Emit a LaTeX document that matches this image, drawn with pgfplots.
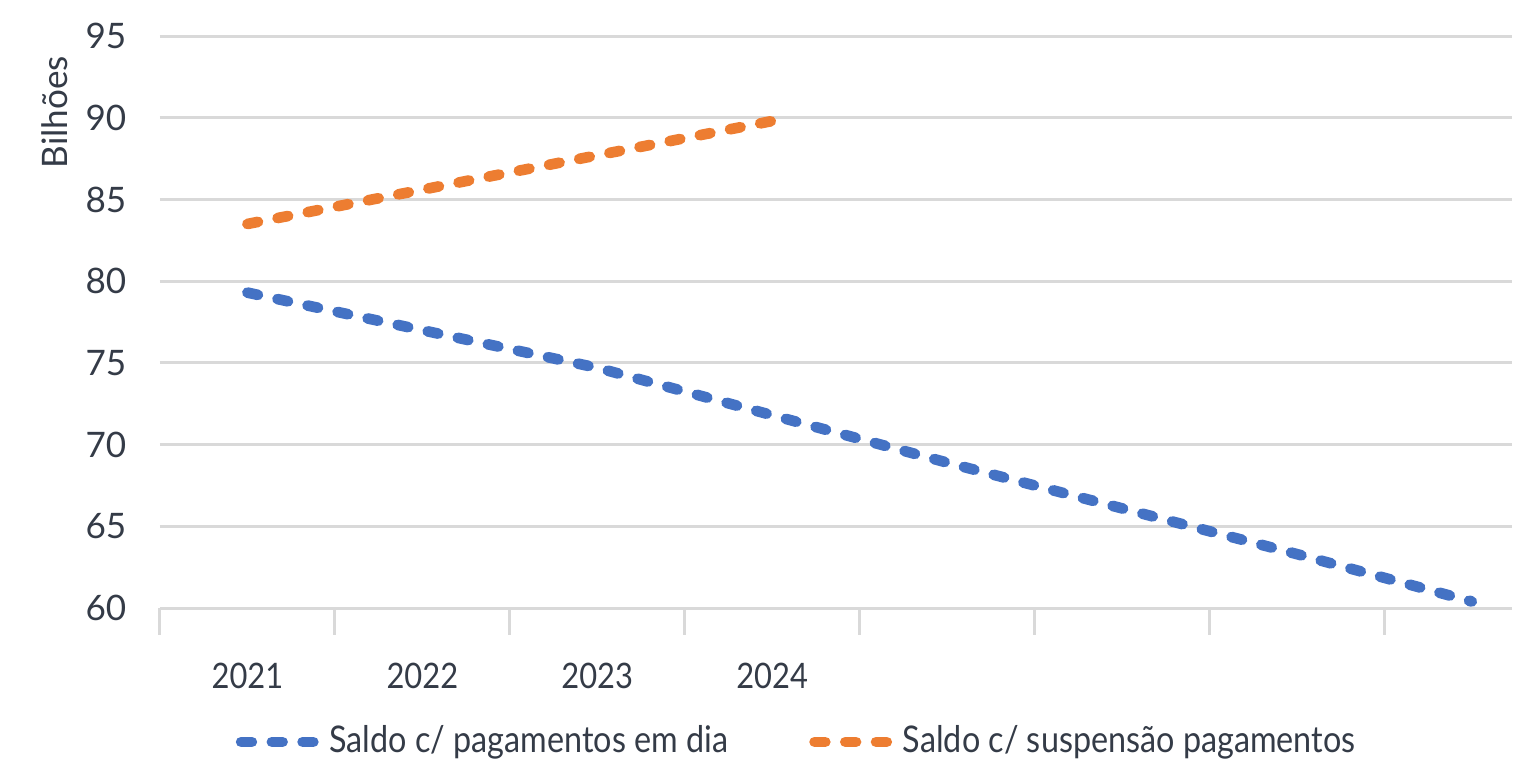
\documentclass[border=0pt]{standalone}
\usepackage{fontspec}
\setmainfont{Lato}
\newfontfamily\narrowfont{Lato}[FakeStretch=0.88]
\usepackage{pgfplots}
\pgfplotsset{compat=1.18}
\definecolor{serblue}{HTML}{4472C4}
\definecolor{serorange}{HTML}{ED7D31}
\definecolor{gridgray}{HTML}{D9D9D9}
\definecolor{txt}{HTML}{343B47}

\begin{document}
\begin{tikzpicture}
\path[use as bounding box] (-1.683cm,-1.599cm) rectangle (14.317cm,6.396cm);
\begin{axis}[
    at={(0,0)}, anchor=south west,
    scale only axis,
    width=14.222cm, height=6.017cm,
    xmin=-0.5, xmax=7.23,
    ymin=60, ymax=95,
    ytick={60,65,...,95},
    xtick={0,1,2,3},
    xticklabels={2021,2022,2023,2024},
    minor xtick={-0.5,0.5,...,6.5},
    axis line style={draw=none},
    ymajorgrids,
    grid style={gridgray, line width=0.9pt},
    xmajorgrids=false,
    xminorgrids=false,
    tick align=outside,
    xtick pos=lower,
    major x tick style={draw=none},
    ytick style={draw=none},
    minor x tick style={gridgray, line width=0.9pt},
    minor tick length=0.28cm,
    /pgf/number format/assume math mode=true,
    tick label style={font=\fontsize{10.5}{12}\selectfont, text=txt},
    yticklabel style={xshift=-0.08cm},
    xticklabel style={yshift=-0.3cm, font=\narrowfont\fontsize{10.5}{12}\selectfont},
    ylabel={Bilhões},
    ylabel style={at={(axis description cs:-0.078,0.867)}, anchor=center, font=\fontsize{10.5}{12}\selectfont, text=txt},
    legend style={at={(0.472,-0.234)}, anchor=center, draw=none, fill=none,
        legend columns=2, font=\narrowfont\fontsize{11}{13}\selectfont, text=txt,
        /tikz/every even column/.append style={column sep=0.8cm},
        nodes={inner xsep=1.5pt}},
    legend image code/.code={\draw[#1] (0cm,0cm) -- (0.82cm,0cm);},
]
\addplot[serblue, line width=3.2pt, line cap=round, dash pattern=on 3.2pt off 6pt]
    coordinates {(0,79.3) (1,77.0) (2,74.7) (3,71.8) (4,68.9) (5,66.1) (6,63.3) (7,60.4)};
\addlegendentry{Saldo c/ pagamentos em dia}
\addplot[serorange, line width=3.2pt, line cap=round, dash pattern=on 3.2pt off 6pt]
    coordinates {(0,83.5) (1,85.6) (2,87.7) (3,89.8)};
\addlegendentry{Saldo c/ suspensão pagamentos}
\end{axis}
\end{tikzpicture}
\end{document}
